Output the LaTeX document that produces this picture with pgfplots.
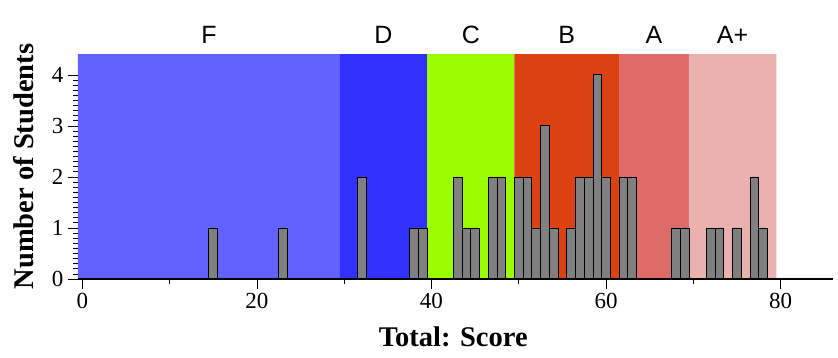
\documentclass[border=0pt]{standalone}
\usepackage{fontspec}
\setmainfont{Liberation Serif}
\newfontfamily\sansf{Liberation Sans}
\newfontfamily\serf{Liberation Serif}
\usepackage{pgfplots}
\pgfplotsset{compat=1.18}
\definecolor{cF}{RGB}{98,98,255}
\definecolor{cD}{RGB}{48,48,255}
\definecolor{cC}{RGB}{153,255,0}
\definecolor{cB}{RGB}{219,65,17}
\definecolor{cA}{RGB}{222,107,104}
\definecolor{cAp}{RGB}{234,177,175}
\definecolor{barg}{RGB}{128,128,128}
\begin{document}
\begin{tikzpicture}
\useasboundingbox (-78pt,-78pt) rectangle (760pt,279pt);
\begin{axis}[
  at={(0,0)}, anchor=south west,
  scale only axis, width=755pt, height=225pt,
  xmin=-0.5, xmax=86, ymin=0, ymax=4.41,
  axis x line*=bottom, axis y line*=left,
  axis on top,
  y axis line style={draw=none},
  x axis line style={line width=1.3pt},
  tick align=outside,
  xtick={0,20,40,60,80}, minor xtick={10,30,50,70},
  ytick={0,1,2,3,4}, minor y tick num=9,
  major tick length=10pt, minor tick length=4.5pt,
  every tick/.style={black, line width=0.8pt},
  xticklabels={0,20,40,60,80},
  yticklabels={0,1,2,3,4},
  ticklabel style={font=\serf\fontsize{23}{23}\selectfont},
  xticklabel style={yshift=-1pt},
  yticklabel style={xshift=-1pt},
  xlabel={\textbf{Total: Score}},
  ylabel={\textbf{Number of Students}},
  xlabel style={at={(axis description cs:0.497,-0.302)}, anchor=base, font=\serf\fontsize{28.5}{28.5}\selectfont},
  ylabel style={at={(axis description cs:-0.0715,0.5)}, anchor=center, rotate=0, font=\serf\fontsize{28.5}{28.5}\selectfont},
  clip=false,
]
\addplot[draw=none, fill=cF] coordinates {(-0.5,0) (-0.5,4.41) (29.5,4.41) (29.5,0)} \closedcycle;
\addplot[draw=none, fill=cD] coordinates {(29.5,0) (29.5,4.41) (39.5,4.41) (39.5,0)} \closedcycle;
\addplot[draw=none, fill=cC] coordinates {(39.5,0) (39.5,4.41) (49.5,4.41) (49.5,0)} \closedcycle;
\addplot[draw=none, fill=cB] coordinates {(49.5,0) (49.5,4.41) (61.5,4.41) (61.5,0)} \closedcycle;
\addplot[draw=none, fill=cA] coordinates {(61.5,0) (61.5,4.41) (69.5,4.41) (69.5,0)} \closedcycle;
\addplot[draw=none, fill=cAp] coordinates {(69.5,0) (69.5,4.41) (79.5,4.41) (79.5,0)} \closedcycle;
\addplot[ybar, bar width=1, fill=barg, draw=black, line width=0.9pt] coordinates {
(15,1) (23,1) (32,2) (38,1) (39,1) (43,2) (44,1) (45,1) (47,2) (48,2)
(50,2) (51,2) (52,1) (53,3) (54,1) (56,1) (57,2) (58,2) (59,4) (60,2)
(62,2) (63,2) (68,1) (69,1) (72,1) (73,1) (75,1) (77,2) (78,1)};
\node[anchor=base, font=\sansf\fontsize{25}{25}\selectfont] at (axis cs:14.5,4.62) {F};
\node[anchor=base, font=\sansf\fontsize{25}{25}\selectfont] at (axis cs:34.5,4.62) {D};
\node[anchor=base, font=\sansf\fontsize{25}{25}\selectfont] at (axis cs:44.5,4.62) {C};
\node[anchor=base, font=\sansf\fontsize{25}{25}\selectfont] at (axis cs:55.5,4.62) {B};
\node[anchor=base, font=\sansf\fontsize{25}{25}\selectfont] at (axis cs:65.5,4.62) {A};
\node[anchor=base, font=\sansf\fontsize{25}{25}\selectfont] at (axis cs:74.5,4.62) {A+};
\end{axis}
\end{tikzpicture}
\end{document}
